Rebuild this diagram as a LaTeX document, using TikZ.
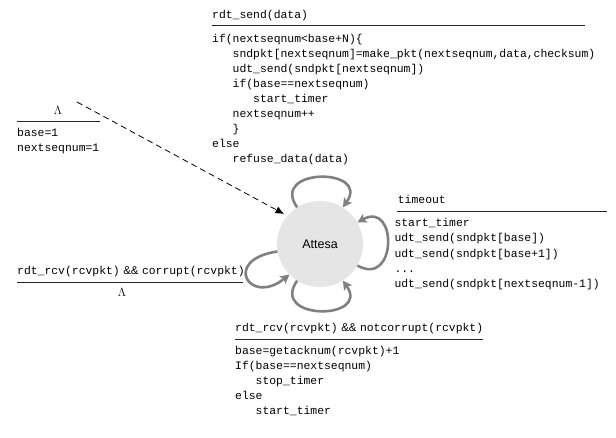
\documentclass[tikz,border=0pt]{standalone}
\usepackage{fontspec}
\newfontfamily\codefont{Liberation Mono}
\newfontfamily\labfont{Liberation Sans}
\usetikzlibrary{arrows.meta}
\newcommand\cblk[1]{\begin{tabular}[t]{@{}l@{}}#1\end{tabular}}
\newcommand\ind{\phantom{xxx}}
\newcommand\amp{\hspace{3.5pt}{\labfont\&\&}\hspace{3.5pt}}
\begin{document}
\begin{tikzpicture}[x=1pt,y=-1pt,
  code/.style={anchor=base west,inner sep=0pt,font=\codefont\fontsize{11.4}{15}\selectfont},
  codeA/.style={code,font=\codefont\fontsize{11.4}{14.94}\selectfont},
  codeB/.style={code,font=\codefont\fontsize{11.4}{15.25}\selectfont},
  lam/.style={anchor=base,inner sep=0pt,font=\fontsize{12}{14}\selectfont},
  rulel/.style={line width=0.9pt,draw=black!85},
  state/.style={circle,fill=black!10,minimum size=86pt,inner sep=0pt,font=\labfont\fontsize{12.5}{14}\selectfont},
  loopar/.style={line width=2.6pt,draw=black!50,-{Stealth[length=9pt,width=9.5pt,inset=2pt]}},
  initar/.style={line width=0.8pt,dash pattern=on 6pt off 4pt,-{Latex[length=8.5pt,width=7.5pt]}}]
\useasboundingbox (0,0) rectangle (616,438);

% state
\node[state] (c) at (320,244) {Attesa};

% initial transition
\coordinate (init) at (77,102);
\coordinate (tip) at (284,214);
\draw[initar] (init) -- (tip);
\node[lam] (l1) at (58,115) {$\Lambda$};
\draw[rulel] (17,121.7) -- (100,121.7);
\node[code] (i1) at (17,136.7) {\cblk{base=1\\nextseqnum=1}};

% rdt_send
\node[code] (h1) at (212,19) {rdt\_send(data)};
\draw[rulel] (212,25.7) -- (585,25.7);
\node[codeA] (b1) at (212,42.5) {\cblk{if(nextseqnum<base+N)\{\\
\ind sndpkt[nextseqnum]=make\_pkt(nextseqnum,data,checksum)\\
\ind udt\_send(sndpkt[nextseqnum])\\
\ind if(base==nextseqnum)\\
\ind\ind start\_timer\\
\ind nextseqnum++\\
\ind \}\\
else\\
\ind refuse\_data(data)}};

% timeout
\node[code] (h2) at (397.7,203.3) {timeout};
\draw[rulel] (396.7,211.7) -- (606.7,211.7);
\node[codeB] (b2) at (394.3,226.7) {\cblk{start\_timer\\
udt\_send(sndpkt[base])\\
udt\_send(sndpkt[base+1])\\
...\\
udt\_send(sndpkt[nextseqnum-1])}};

% corrupt
\node[code] (h3) at (17,275) {rdt\_rcv(rcvpkt)\amp corrupt(rcvpkt)};
\draw[rulel] (17,282.7) -- (243,282.7);
\node[lam] (l3) at (122,297) {$\Lambda$};

% notcorrupt
\node[code] (h4) at (235,331.7) {rdt\_rcv(rcvpkt)\amp notcorrupt(rcvpkt)};
\draw[rulel] (235,339.3) -- (483,339.3);
\node[code] (b4) at (235,355) {\cblk{base=getacknum(rcvpkt)+1\\
If(base==nextseqnum)\\
\ind stop\_timer\\
else\\
\ind start\_timer}};

% self loops
\draw[loopar] (c.122) .. controls +(-28,-40) and +(28,-40) .. (c.58);
\draw[loopar] (c.-30) .. controls +(40,22) and +(40,-22) .. (c.30);
\draw[loopar] (c.190) .. controls +(-56,8) and +(-40,32) .. (c.225);
\draw[loopar] (c.238) .. controls +(-28,40) and +(28,40) .. (c.302);
\end{tikzpicture}
\end{document}
